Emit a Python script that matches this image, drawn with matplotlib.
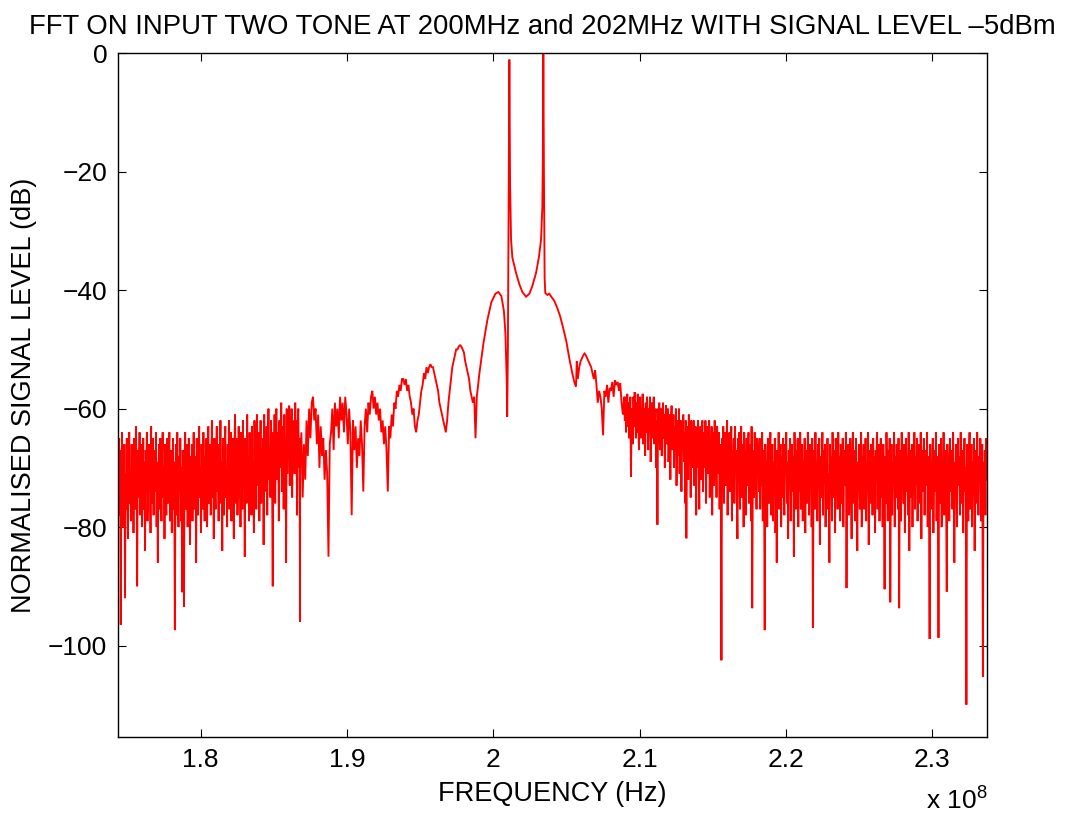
import numpy as np
import matplotlib
matplotlib.use("Agg")
import matplotlib.pyplot as plt

plt.rcParams['font.family'] = ['Liberation Sans', 'DejaVu Sans']
plt.rcParams['mathtext.default'] = 'regular'

# ---- spectrum data (frequency in Hz, level in dB relative to the strongest tone) ----
# low-side noise floor
left_noise_span = (1.7438e8, 1.8680e8)
left_noise_db = [
    -70, -65, -78, -67, -96.5, -72, -64, -80, -69, -75, -66, -92, -71, -77, -65, -73, -82, -68, -64, -76,
    -71, -79, -66, -74, -68, -81, -65, -72, -77, -63, -70, -90, -67, -75, -69, -64, -78, -72, -66, -80,
    -73, -65, -77, -69, -84, -67, -71, -64, -79, -74, -66, -72, -68, -81, -63, -76, -70, -65, -78, -71,
    -67, -74, -64, -80, -69, -86, -72, -66, -77, -65, -73, -79, -68, -64, -75, -70, -82, -66, -72, -78,
    -65, -71, -76, -68, -64, -79, -73, -67, -81, -70, -65, -77, -69, -97.4, -72, -66, -78, -64, -74, -80,
    -68, -73, -65, -79, -70, -91, -67, -75, -93.5, -69, -64, -77, -71, -66, -80, -72, -65, -76, -83, -68,
    -74, -66, -79, -70, -64, -77, -72, -68, -86, -65, -73, -78, -67, -63, -75, -70, -81, -66, -72, -77,
    -64, -71, -79, -68, -74, -65, -80, -69, -63, -76, -72, -66, -78, -70, -62, -75, -68, -82, -65, -73,
    -77, -67, -63, -74, -70, -79, -66, -72, -62, -76, -69, -84, -65, -71, -78, -67, -63, -75, -70, -80,
    -66, -73, -62, -77, -69, -64, -79, -71, -65, -74, -82, -67, -61, -76, -70, -65, -78, -72, -63, -75,
    -68, -80, -64, -71, -77, -62, -73, -67, -85, -65, -70, -76, -61, -74, -68, -79, -64, -72, -66, -78,
    -63, -75, -69, -81, -62, -71, -66, -77, -61, -73, -68, -64, -79, -70, -62, -76, -67, -72, -65, -83,
    -61, -74, -68, -70, -63, -78, -66, -60, -72, -69, -75, -62, -67, -73, -90, -64, -71, -61, -76, -66,
    -60, -72, -68, -64, -79, -62, -70, -66, -59, -74, -67, -63, -77, -61, -69, -65, -86, -60, -71, -64,
    -68, -59.5, -73, -63, -66, -60, -75, -62, -69, -64, -71, -59, -67, -62, -78, -63, -60, -70, -65, -96,
]

# lower sidelobes approaching the tones
left_lobe_span = (1.8680e8, 1.9905e8)
left_lobe_db = [
    -70, -64, -75, -66, -72, -62, -68, -60, -65, -59,
    -58, -62, -60, -66, -61, -70, -63, -68, -65, -72,
    -67, -71, -85, -66, -64, -60, -67, -59, -63, -60,
    -65, -58, -62, -59, -64, -58, -61, -66, -60, -64,
    -78, -62, -67, -63, -70, -65, -68, -62, -66, -74,
    -63, -60, -64, -59, -61, -58, -57, -60, -58, -61,
    -59, -62, -60, -64, -62, -66, -63, -67, -74, -63,
    -65, -61, -63, -59, -60, -57, -58, -56, -57, -55,
    -55, -56, -55, -57, -56, -58, -59, -61, -60, -63,
    -64, -62, -61, -59, -57, -56, -54, -55, -53, -54,
    -53, -52.5, -53, -53, -54, -55, -56, -57, -59, -60,
    -61, -62, -63, -64, -62, -59, -57, -55, -53, -52,
    -51, -50, -50, -49.5, -49.3, -49.5, -50, -50.5, -52, -53,
    -54, -55, -57, -58, -59, -58, -65, -58, -56, -54,
]

# the two tones and their skirts
center_freq = [
    1.99053e8, 1.99325e8, 1.99598e8, 1.99871e8, 2.00144e8, 2.00348e8,
    2.00553e8, 2.00724e8, 2.00826e8, 2.00915e8, 2.00949e8, 2.00997e8,
    2.01050e8, 2.01098e8, 2.01146e8, 2.01214e8, 2.01303e8, 2.01556e8,
    2.01780e8, 2.01985e8, 2.02238e8, 2.02463e8, 2.02668e8, 2.02920e8,
    2.03111e8, 2.03261e8, 2.03350e8, 2.03384e8, 2.03418e8, 2.03459e8,
    2.03507e8, 2.03555e8, 2.03691e8, 2.03828e8, 2.03964e8, 2.04169e8,
    2.04374e8, 2.04578e8, 2.04783e8, 2.04988e8, 2.05192e8, 2.05397e8,
    2.05533e8, 2.05649e8, 2.05704e8, 2.05772e8, 2.05874e8,
]
center_db = [
    -54, -49, -45, -42, -40.6, -40.3,
    -41, -43.5, -47.2, -55, -61.4, -50,
    -25, -1.06, -22, -31.5, -34.5, -37.1,
    -39, -40.3, -41.1, -40.6, -39.3, -37.1,
    -34.5, -31.5, -26, -18, 0, -20,
    -38, -40.5, -40.8, -40.6, -41.1, -41.8,
    -43, -44.5, -46.5, -48.6, -51.5, -54,
    -55.5, -56.3, -52, -55, -53,
]

# upper sidelobes just above the second tone
right_lobe_span = (2.05874e8, 2.08944e8)
right_lobe_db = [
    -53, -52, -51.5, -51, -50.7, -51, -51.5, -52, -52.5, -53,
    -54, -55, -53.5, -56, -59, -57, -58, -60, -64.5, -57,
    -58, -56, -59, -56.5, -57, -55.5, -58, -55.2, -56, -55.5,
    -57, -55.7, -59, -61, -58,
]

# sidelobes fading into the noise
right_mid_span = (2.08944e8, 2.18152e8)
right_mid_db = [
    -59, -62, -58, -64, -60, -57.5, -63, -59, -65, -61, -58, -71.5, -62, -60, -66, -58, -63, -57.2, -61, -65,
    -59, -64, -57.5, -62, -67, -60, -58, -65, -61, -63, -57.5, -66, -60, -62, -68, -59, -64, -58, -61, -67,
    -60, -63, -58, -69, -62, -59, -65, -61, -58, -66, -63, -60, -70, -62, -79.6, -60, -64, -59, -67, -62,
    -60, -68, -63, -59, -65, -61, -70, -62, -59.4, -66, -63, -60, -69, -64, -61, -72, -62, -59.5, -67, -64,
    -61, -70, -63, -66, -60, -73, -64, -62, -68, -60, -71, -65, -62, -74, -63, -67, -61, -69, -64, -76,
    -62, -81.9, -66, -63, -72, -61, -68, -65, -75, -62, -70, -64, -67, -62, -73, -66, -63, -78, -64, -70,
    -62, -68, -77, -65, -63, -72, -66, -62, -74, -67, -64, -70, -62, -76, -66, -63, -71, -68, -62, -75,
    -65, -70, -63, -78, -67, -64, -73, -62, -69, -66, -75, -63, -71, -68, -64, -77, -66, -72, -102.5, -65,
    -70, -63, -76, -67, -64, -73, -69, -62, -78, -66, -71, -64, -74, -68, -63, -79, -67, -72, -65, -76,
    -63, -70, -67, -74, -82, -65, -71, -64, -77, -68, -63, -75, -69, -66, -80, -64, -72, -67, -78, -65,
    -73, -68, -64, -76, -70, -66, -79, -63, -93.7, -71, -67, -75, -64, -72, -69, -77, -65, -70, -68, -74,
]

# high-side noise floor
right_noise_span = (2.18152e8, 2.33710e8)
right_noise_db = [
    -70, -65, -77, -68, -73, -64, -79, -67, -72, -97.4, -66, -75, -69, -80, -65, -71, -76, -67, -64, -78,
    -72, -66, -79, -69, -74, -65, -81, -70, -86, -67, -73, -64, -77, -71, -66, -80, -68, -75, -65, -72,
    -78, -66, -70, -64, -76, -69, -82, -67, -73, -65, -79, -71, -66, -74, -68, -85, -64, -72, -77, -67,
    -70, -65, -80, -68, -74, -64, -77, -71, -66, -79, -69, -73, -65, -81, -67, -72, -76, -64, -70, -78,
    -66, -73, -68, -80, -65, -97, -71, -67, -77, -64, -74, -69, -79, -66, -72, -65, -83, -68, -75, -70,
    -64, -78, -67, -72, -66, -80, -69, -74, -65, -77, -71, -86, -66, -73, -68, -79, -64, -75, -70, -67,
    -81, -65, -72, -69, -77, -64, -74, -68, -79, -66, -71, -76, -65, -80, -70, -67, -73, -64, -90.3, -69,
    -75, -66, -78, -70, -65, -73, -82, -68, -64, -76, -71, -67, -79, -65, -72, -84, -69, -74, -66, -77,
    -70, -64, -80, -68, -73, -66, -77, -71, -65, -79, -69, -74, -64, -83, -67, -72, -76, -66, -70, -78,
    -65, -73, -68, -81, -67, -71, -64, -77, -70, -66, -79, -72, -65, -75, -69, -80, -66, -73, -90.5, -68,
    -76, -64, -71, -79, -67, -74, -65, -92.7, -70, -66, -78, -69, -73, -64, -80, -68, -75, -66, -72, -77,
    -65, -93.7, -70, -67, -79, -64, -73, -69, -76, -66, -81, -71, -65, -74, -68, -78, -64, -84, -70, -67,
    -75, -66, -80, -69, -72, -64, -77, -68, -73, -65, -79, -70, -66, -76, -71, -64, -82, -67, -74, -69,
    -65, -78, -70, -67, -73, -64, -80, -68, -75, -98.9, -66, -72, -69, -77, -65, -81, -71, -67, -74, -64,
    -79, -68, -72, -98.7, -66, -76, -70, -65, -80, -69, -73, -64, -78, -67, -71, -75, -90.9, -66, -72, -68,
    -79, -65, -74, -70, -67, -77, -64, -72, -86, -69, -75, -66, -80, -71, -65, -73, -68, -78, -64, -71,
    -76, -67, -81, -69, -65, -74, -70, -110, -66, -73, -79, -68, -64, -77, -71, -66, -80, -69, -74, -65,
    -84, -70, -67, -76, -64, -73, -78, -68, -72, -65, -79, -70, -66, -105.3, -69, -74, -67, -78, -65, -72,
]

x_ticks = [1.8e8, 1.9e8, 2.0e8, 2.1e8, 2.2e8, 2.3e8]
x_tick_labels = ["1.8", "1.9", "2", "2.1", "2.2", "2.3"]
y_ticks = [0, -20, -40, -60, -80, -100]


def binned(span, levels):
    """Place evenly spaced FFT bins across a frequency span."""
    return np.linspace(span[0], span[1], len(levels)), np.asarray(levels, float)


segments = [
    binned(left_noise_span, left_noise_db),
    binned(left_lobe_span, left_lobe_db),
    (np.asarray(center_freq), np.asarray(center_db, float)),
    binned(right_lobe_span, right_lobe_db),
    binned(right_mid_span, right_mid_db),
    binned(right_noise_span, right_noise_db),
]
freq = np.concatenate([s[0] for s in segments])
level = np.concatenate([s[1] for s in segments])

fig = plt.figure(figsize=(10.68, 8.23), dpi=100)
ax = fig.add_axes([118.3 / 1068, 1 - 737.3 / 823, (986.7 - 118.3) / 1068, (737.3 - 53.3) / 823])

ax.plot(freq, level, color='#ff0000', lw=1.35, solid_joinstyle='miter')

ax.set_xlim(1.7438e8, 2.3371e8)
ax.set_ylim(-115.5, 0)
ax.set_xticks(x_ticks)
ax.set_xticklabels(x_tick_labels)
ax.set_yticks(y_ticks)
ax.tick_params(direction='in', length=6, width=0.8, labelsize=19, pad=8,
               top=True, right=True, colors='black')
for sp in ax.spines.values():
    sp.set_linewidth(1.0)
    sp.set_color('black')

ax.set_xlabel('FREQUENCY (Hz)', fontsize=19.5, labelpad=6)
ax.set_ylabel('NORMALISED SIGNAL LEVEL (dB)', fontsize=19.5, labelpad=8)
fig.text(542 / 1068, 1 - 27 / 823,
         'FFT ON INPUT TWO TONE AT 200MHz and 202MHz WITH SIGNAL LEVEL \u20135dBm',
         ha='center', va='center', fontsize=19.8)
fig.text(926 / 1068, 1 - 810 / 823, 'x 10$^{8}$', ha='left', va='baseline', fontsize=19)

fig.savefig('out.png', dpi=100, facecolor='white')
